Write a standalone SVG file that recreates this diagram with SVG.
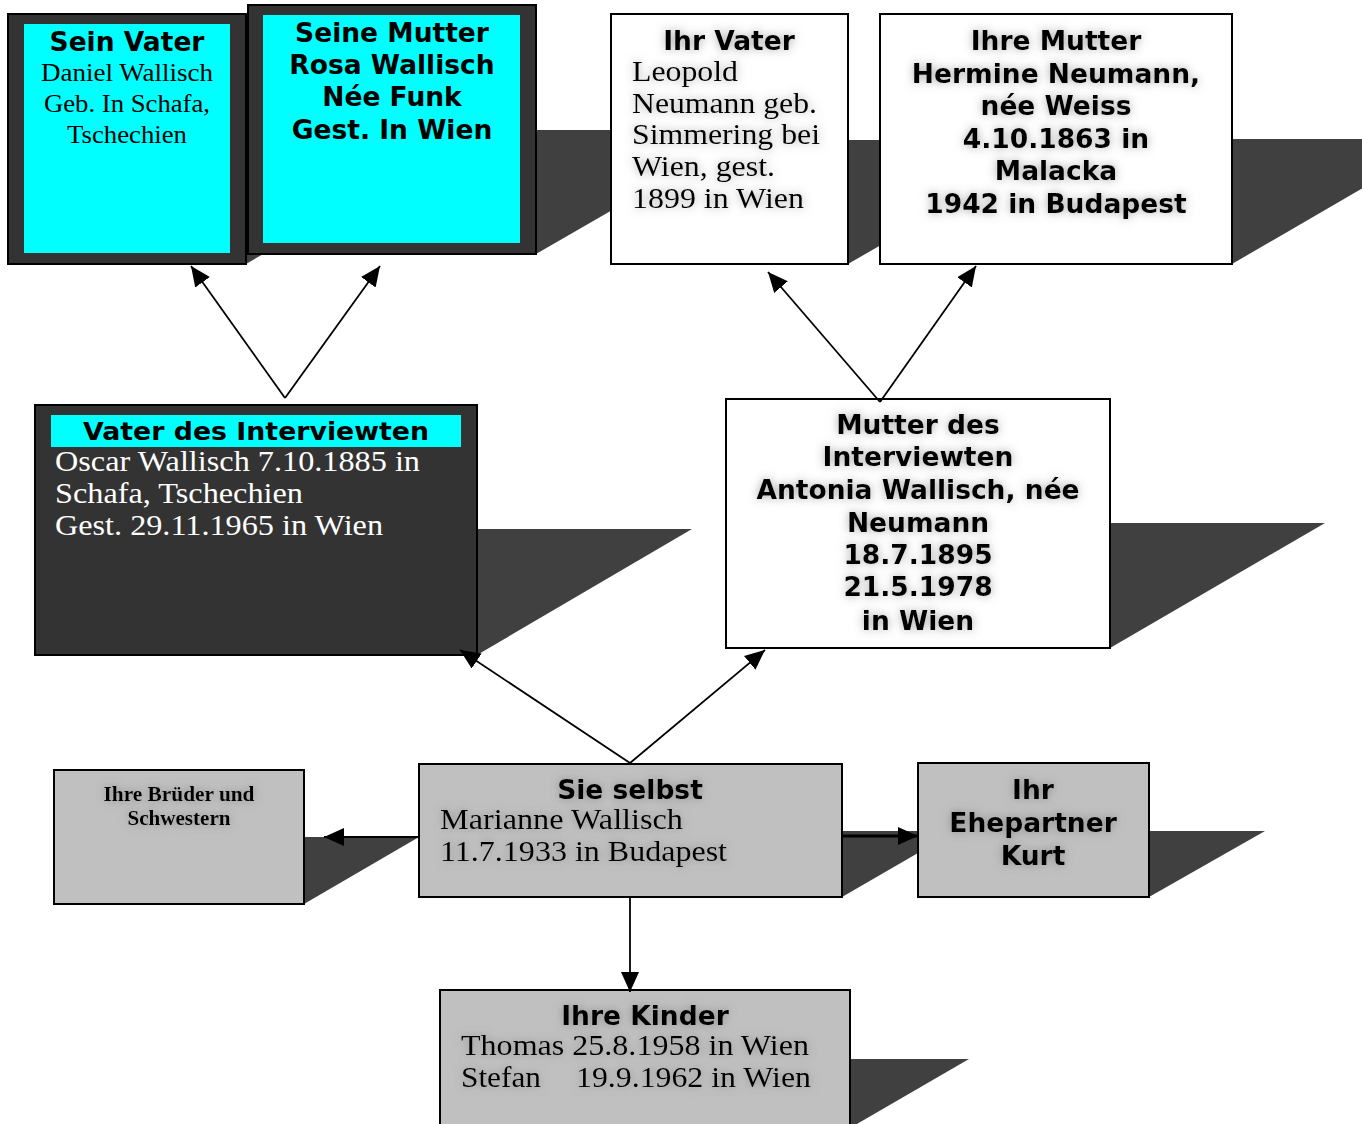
<svg xmlns="http://www.w3.org/2000/svg" width="1362" height="1124" viewBox="0 0 1362 1124">
<defs>
<style>
.sh{fill:#404040}
.dark{fill:#333333;stroke:#000;stroke-width:2}
.cyan{fill:#00ffff}
.white{fill:#ffffff;stroke:#000;stroke-width:2}
.gray{fill:#c0c0c0;stroke:#000;stroke-width:2}
.b{font-family:"DejaVu Sans",Verdana,sans-serif;font-weight:bold;font-size:26.5px;fill:#000;text-anchor:middle}
.s{font-family:"Liberation Serif","Times New Roman",serif;font-size:30px;fill:#000}
.sc{text-anchor:middle;font-size:25px}
.sb{font-weight:bold;font-size:20px;text-anchor:middle}
.w{fill:#fff;font-size:29px}
.con{stroke:#000;stroke-width:1.8;fill:none}
</style>
<marker id="ah" markerUnits="userSpaceOnUse" markerWidth="22" markerHeight="20" refX="20" refY="9" orient="auto">
<path d="M0,0 L20,9 L0,18 z" fill="#000"/>
</marker>
<filter id="glow" x="-20%" y="-30%" width="140%" height="160%">
<feGaussianBlur in="SourceAlpha" stdDeviation="5" result="b"/>
<feFlood flood-color="#666" flood-opacity="0.6"/>
<feComposite in2="b" operator="in" result="g"/>
<feMerge><feMergeNode in="g"/><feMergeNode in="SourceGraphic"/></feMerge>
</filter>
</defs>
<rect width="1362" height="1124" fill="#fff"/>

<g id="sein-vater">
<polygon class="sh" points="246,139 461,139 246,264"/>
<rect class="dark" x="8" y="14" width="238" height="250"/>
<rect class="cyan" x="24" y="24" width="206" height="229"/>
<text class="b" x="127" y="51">Sein Vater</text>
<text class="s sc" x="127" y="81" textLength="172" lengthAdjust="spacingAndGlyphs">Daniel Wallisch</text>
<text class="s sc" x="127" y="112" textLength="166" lengthAdjust="spacingAndGlyphs">Geb. In Schafa,</text>
<text class="s sc" x="127" y="143" textLength="120" lengthAdjust="spacingAndGlyphs">Tschechien</text>
</g>

<g id="seine-mutter">
<polygon class="sh" points="536,130 751,130 536,254"/>
<rect class="dark" x="248" y="5" width="288" height="249"/>
<rect class="cyan" x="263" y="15" width="257" height="228"/>
<text class="b" x="392" y="42">Seine Mutter</text>
<text class="b" x="392" y="74">Rosa Wallisch</text>
<text class="b" x="392" y="106">Née Funk</text>
<text class="b" x="392" y="139">Gest. In Wien</text>
</g>

<g id="ihr-vater">
<polygon class="sh" points="848,140 1063,140 848,264"/>
<rect class="white" x="611" y="14" width="237" height="250"/>
<g filter="url(#glow)">
<text class="b" x="729" y="50">Ihr Vater</text>
<text class="s" x="632" y="81" textLength="106" lengthAdjust="spacingAndGlyphs">Leopold</text>
<text class="s" x="632" y="113" textLength="185" lengthAdjust="spacingAndGlyphs">Neumann geb.</text>
<text class="s" x="632" y="144" textLength="188" lengthAdjust="spacingAndGlyphs">Simmering bei</text>
<text class="s" x="632" y="176" textLength="143" lengthAdjust="spacingAndGlyphs">Wien, gest.</text>
<text class="s" x="632" y="208" textLength="172" lengthAdjust="spacingAndGlyphs">1899 in Wien</text>
</g>
</g>

<g id="ihre-mutter">
<polygon class="sh" points="1232,139 1447,139 1232,264"/>
<rect class="white" x="880" y="14" width="352" height="250"/>
<g filter="url(#glow)">
<text class="b" x="1056" y="50">Ihre Mutter</text>
<text class="b" x="1056" y="83">Hermine Neumann,</text>
<text class="b" x="1056" y="115">née Weiss</text>
<text class="b" x="1056" y="148">4.10.1863 in</text>
<text class="b" x="1056" y="180">Malacka</text>
<text class="b" x="1056" y="213">1942 in Budapest</text>
</g>
</g>

<g id="vater-interviewten">
<polygon class="sh" points="477,529 692,529 477,655"/>
<rect class="dark" x="35" y="405" width="442" height="250"/>
<rect class="cyan" x="51" y="415" width="410" height="32"/>
<text class="b" x="256" y="440" style="font-size:24px" textLength="346" lengthAdjust="spacingAndGlyphs">Vater des Interviewten</text>
<text class="s w" x="55" y="471" textLength="365" lengthAdjust="spacingAndGlyphs">Oscar Wallisch 7.10.1885 in</text>
<text class="s w" x="55" y="503" textLength="248" lengthAdjust="spacingAndGlyphs">Schafa, Tschechien</text>
<text class="s w" x="55" y="535" textLength="328" lengthAdjust="spacingAndGlyphs">Gest. 29.11.1965 in Wien</text>
</g>

<g id="mutter-interviewten">
<polygon class="sh" points="1110,523 1325,523 1110,648"/>
<rect class="white" x="726" y="399" width="384" height="249"/>
<g filter="url(#glow)">
<text class="b" x="918" y="434">Mutter des</text>
<text class="b" x="918" y="466">Interviewten</text>
<text class="b" x="918" y="499">Antonia Wallisch, née</text>
<text class="b" x="918" y="532">Neumann</text>
<text class="b" x="918" y="564">18.7.1895</text>
<text class="b" x="918" y="596">21.5.1978</text>
<text class="b" x="918" y="630">in Wien</text>
</g>
</g>

<g id="brueder">
<polygon class="sh" points="304,837 419,837 304,904"/>
<rect class="gray" x="54" y="770" width="250" height="134"/>
<g filter="url(#glow)">
<text class="s sb" x="179" y="801" textLength="151" lengthAdjust="spacingAndGlyphs">Ihre Brüder und</text>
<text class="s sb" x="179" y="825" textLength="103" lengthAdjust="spacingAndGlyphs">Schwestern</text>
</g>
</g>

<g id="sie-selbst">
<polygon class="sh" points="842,831 956,831 842,897"/>
<rect class="gray" x="419" y="764" width="423" height="133"/>
<g filter="url(#glow)">
<text class="b" x="630" y="799">Sie selbst</text>
<text class="s" x="440" y="829" textLength="243" lengthAdjust="spacingAndGlyphs">Marianne Wallisch</text>
<text class="s" x="440" y="861" textLength="287" lengthAdjust="spacingAndGlyphs">11.7.1933 in Budapest</text>
</g>
</g>

<g id="ehepartner">
<polygon class="sh" points="1149,831 1265,831 1149,897"/>
<rect class="gray" x="918" y="763" width="231" height="134"/>
<g filter="url(#glow)">
<text class="b" x="1033" y="799">Ihr</text>
<text class="b" x="1033" y="832">Ehepartner</text>
<text class="b" x="1033" y="865">Kurt</text>
</g>
</g>

<g id="kinder">
<polygon class="sh" points="850,1059 969,1059 850,1128"/>
<rect class="gray" x="440" y="990" width="410" height="140"/>
<g filter="url(#glow)">
<text class="b" x="645" y="1025">Ihre Kinder</text>
<text class="s" x="461" y="1055" textLength="348" lengthAdjust="spacingAndGlyphs">Thomas 25.8.1958 in Wien</text>
<text class="s" x="461" y="1087" textLength="80" lengthAdjust="spacingAndGlyphs">Stefan</text>
<text class="s" x="576" y="1087" textLength="235" lengthAdjust="spacingAndGlyphs">19.9.1962 in Wien</text>
</g>
</g>

<g id="connectors">
<line class="con" x1="285" y1="398" x2="191" y2="266" marker-end="url(#ah)"/>
<line class="con" x1="285" y1="398" x2="380" y2="266" marker-end="url(#ah)"/>
<line class="con" x1="880" y1="402" x2="768" y2="272" marker-end="url(#ah)"/>
<line class="con" x1="880" y1="402" x2="976" y2="266" marker-end="url(#ah)"/>
<line class="con" x1="630" y1="763" x2="460" y2="650" marker-end="url(#ah)"/>
<line class="con" x1="630" y1="763" x2="765" y2="650" marker-end="url(#ah)"/>
<line class="con" x1="419" y1="837" x2="324" y2="837" marker-end="url(#ah)"/>
<line class="con" x1="842" y1="836" x2="918" y2="836" style="stroke-width:3" marker-end="url(#ah)"/>
<line class="con" x1="630" y1="897" x2="630" y2="992" marker-end="url(#ah)"/>
</g>
</svg>
